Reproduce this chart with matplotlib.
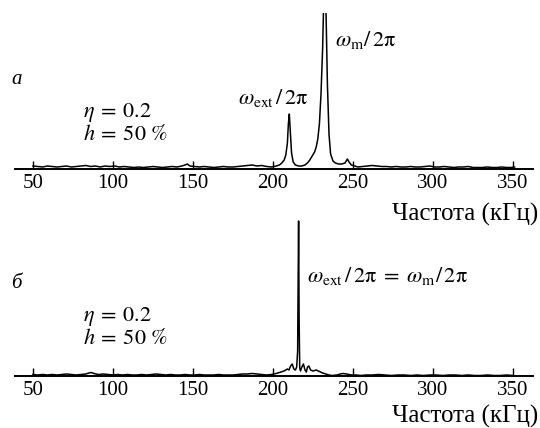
import numpy as np
import matplotlib
matplotlib.use("Agg")
import matplotlib.pyplot as plt

# spectrum a (eta = 0.2, h = 50 %), frequency in kHz, amplitude in arb. units
freq_a = [
    50, 53, 56, 59, 62, 65, 68, 71, 74, 77,
    80, 83, 86, 89, 92, 95, 98, 101, 104, 107,
    110, 113, 116, 119, 122, 125, 128, 131, 134, 137,
    140, 143, 145, 146.5, 148, 151, 154, 157, 160, 163,
    166, 169, 172, 175, 178, 181, 184, 187, 190, 193,
    196, 199, 202, 204, 205.5, 207, 208, 209, 209.6, 210.2,
    210.8, 211.6, 212.6, 214, 216, 218, 220, 221.5, 223, 224.5,
    226, 227, 228, 229, 230, 231, 231.8, 232.4, 233.1, 234,
    235, 236, 237.5, 239, 241, 243, 245, 246.5, 247.5, 249,
    251, 253, 256, 259, 262, 265, 268, 271, 274, 277,
    280, 283, 286, 289, 292, 295, 298, 301, 304, 307,
    310, 313, 316, 319, 322, 325, 328, 331, 334, 337,
    340, 343, 346, 349, 351]
amp_a = [
    3, 2.5, 2, 3, 2.5, 2, 2.5, 3, 2, 2.5,
    3, 3.5, 2.5, 3, 2, 3, 2.5, 3, 2, 2.5,
    2, 1.5, 2, 1.5, 2, 2.5, 2, 1.5, 2, 2.5,
    2, 3, 4, 5, 3, 2.5, 2, 2.5, 2, 1.5,
    2, 2.5, 2, 2, 2.5, 3, 3.5, 4, 3, 3.5,
    2.5, 2, 3, 4, 6, 9, 14, 26, 45, 55,
    38, 16, 7, 4, 3, 3, 4, 6, 9, 13,
    17, 22, 30, 45, 75, 120, 175, 200, 160, 85,
    35, 15, 8, 6, 5, 5, 6, 10, 7, 4,
    3, 2, 2.5, 3, 3.5, 3, 2.5, 2.5, 2, 2.5,
    2, 2, 2.5, 2, 2, 2.5, 3, 2, 2, 2.5,
    2, 1.5, 2, 2, 2.5, 1.5, 1.5, 1.5, 2, 1.5,
    1.5, 2, 1.5, 1.5, 2]

# spectrum b
freq_b = [
    50, 53, 56, 59, 62, 65, 68, 71, 74, 77,
    80, 83, 85, 86.5, 88, 91, 94, 97, 100, 103,
    106, 109, 112, 115, 118, 121, 124, 127, 130, 133,
    136, 139, 142, 145, 148, 151, 154, 157, 160, 163,
    166, 169, 172, 175, 178, 181, 184, 187, 190, 193,
    196, 199, 202, 204, 206, 207.5, 209, 210, 211, 212,
    213, 214, 214.8, 215.4, 216, 216.3, 216.7, 217.2, 218, 219,
    220, 220.8, 221.6, 222.4, 223.5, 225, 227, 229, 231, 233,
    235, 237, 240, 242, 244, 246, 249, 252, 255, 258,
    262, 266, 270, 274, 278, 282, 286, 290, 294, 298,
    302, 306, 310, 314, 318, 322, 326, 330, 334, 338,
    342, 346, 350]
amp_b = [
    1.5, 1, 1.5, 1, 1.5, 1, 1.5, 2, 1.5, 1,
    1.5, 2, 3, 3.5, 2.5, 1.5, 2, 1.5, 1, 1.5,
    1, 1.5, 1, 1, 1.5, 1, 1.5, 2, 1.5, 1,
    1.5, 1, 1, 1.5, 1, 1, 1.5, 1, 1, 1,
    1.5, 1, 1, 1, 1.5, 2, 2, 2.5, 2, 1.5,
    1, 1.5, 2.5, 3.5, 4.5, 5.5, 7, 6, 10, 12,
    7, 6, 9, 25, 155, 60, 8, 5, 9, 12,
    6, 4, 9, 10, 6, 5, 6, 4.5, 3, 2,
    1, 0.5, 1, 2, 2.5, 2, 1, 1, 0.5, 1,
    1, 1.5, 1, 0.5, 1, 1, 0.5, 1, 0.5, 1,
    1, 0.5, 1, 1, 0.5, 1, 0.5, 0.5, 1, 0.5,
    0.5, 1, 0.5]

ticks = [50, 100, 150, 200, 250, 300, 350]

plt.rcParams['font.family'] = ['Liberation Serif', 'DejaVu Serif']
plt.rcParams['mathtext.fontset'] = 'stix'

W, H = 540, 428
fig = plt.figure(figsize=(W / 100, H / 100), dpi=100)


def px(x, y):
    return x / W, 1 - y / H


def make_axes(y_axis):
    ax = fig.add_axes([15 / W, (H - y_axis) / H, (533 - 15) / W, 156 / H])
    ax.set_xlim(38.75, 362.5)
    ax.set_ylim(0, 156)
    for s in ["top", "left", "right"]:
        ax.spines[s].set_visible(False)
    ax.spines["bottom"].set_linewidth(1.4)
    ax.set_yticks([])
    ax.set_xticks(ticks)
    ax.tick_params(axis="x", direction="in", length=6, width=1,
                   labelsize=15, pad=3.5)
    ax.patch.set_alpha(0)
    return ax


ax_a = make_axes(169)
ax_a.plot(freq_a, amp_a, color="black", lw=1.1, clip_on=True)
ax_b = make_axes(376)
ax_b.plot(freq_b, amp_b, color="black", lw=1.1, clip_on=True)

# labels
fig.text(*px(538, 214), "Частота (кГц)", ha="right", va="center", fontsize=18)
fig.text(*px(538, 416), "Частота (кГц)", ha="right", va="center", fontsize=18)

fig.text(*px(11, 80), "a", style="italic", ha="left", va="center", fontsize=15)
fig.text(*px(11, 284), "б", style="italic", ha="left", va="center", fontsize=15)

for yy in (112, 316):
    fig.text(*px(83, yy), r"$\eta\: = \:0.2$", ha="left", va="center", fontsize=16)
    fig.text(*px(83, yy + 23), r"$h\: = \:50\ \%$", ha="left", va="center", fontsize=16)

fig.text(*px(238, 98), r"$\omega_{\mathrm{ext}}\,/\,2\mathrm{\pi}$", ha="left", va="center", fontsize=16)
fig.text(*px(335, 40), r"$\omega_{\mathrm{m}}/\,2\mathrm{\pi}$", ha="left", va="center", fontsize=16)
fig.text(*px(307, 276),
         r"$\omega_{\mathrm{ext}}\,/\,2\mathrm{\pi}\; = \;\omega_{\mathrm{m}}/\,2\mathrm{\pi}$",
         ha="left", va="center", fontsize=16)

fig.savefig("out.png", dpi=100)
